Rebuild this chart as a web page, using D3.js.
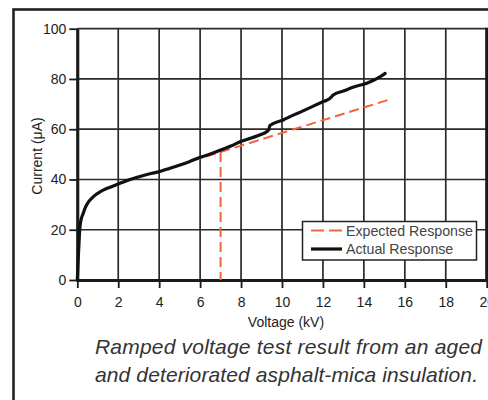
<!DOCTYPE html>
<html><head><meta charset="utf-8">
<script src="https://cdn.jsdelivr.net/npm/d3@7"></script>
<style>
html,body{margin:0;padding:0;background:#fff;}
svg{display:block;}
text{font-family:"Liberation Sans",Arial,Helvetica,sans-serif;}
</style></head>
<body>
<svg id="c" width="488" height="400"></svg>
<script>
// ---- data ----
const xTicks = [0,2,4,6,8,10,12,14,16,18,20];
const yTicks = [0,20,40,60,80,100];
const actualV = [0,0.06,0.13,0.2,0.29,0.4,0.5,0.62,0.8,1.11,1.5,2.09,2.5,3.06,3.5,4.04,4.5,5.02,5.5,6.0,6.5,6.97,7.5,7.95,8.5,9.0,9.25,9.35,9.41,10.06,10.5,11.0,11.5,12.02,12.3,12.45,12.5,13.0,13.5,14.14,14.5,14.8,15.04];
const actualI = [0,11,21.2,24.5,26.5,29.0,30.5,31.8,33.3,35.1,36.6,38.5,39.8,41.2,42.2,43.2,44.4,45.8,47.2,48.8,50.1,51.6,53.3,55.0,56.5,58.0,59.0,59.8,61.5,63.7,65.4,67.2,69.1,71.0,72.0,73.2,73.6,75.2,76.8,78.3,79.6,80.9,82.2];
const expectedV = [2.09,15.28];
const expectedI = [38.5,71.9];
const thresholdV = 7.0;
const seriesNames = ["Expected Response","Actual Response"];
const xTitle = "Voltage (kV)";
const yTitle = "Current (\u03bcA)";
const caption = ["Ramped voltage test result from an aged","and deteriorated asphalt-mica insulation."];

const svg = d3.select("#c");
const orange = "#f2643a";
const gridCol = "#2e2826";

// outer frame
svg.append("rect").attr("x",13.5).attr("y",9.5).attr("width",520).attr("height",420)
  .attr("fill","none").attr("stroke","#222").attr("stroke-width",2.6);

const x = d3.scaleLinear().domain([0,20]).range([77.3,486.7]);
const y = d3.scaleLinear().domain([0,100]).range([280,28.7]);

// grid
const g = svg.append("g");
g.selectAll("line.vg").data(xTicks).join("line")
  .attr("x1",d=>x(d)).attr("x2",d=>x(d)).attr("y1",y(0)).attr("y2",y(100))
  .attr("stroke",gridCol).attr("stroke-width",1.7);
g.selectAll("line.hg").data(yTicks).join("line")
  .attr("x1",x(0)).attr("x2",x(20)).attr("y1",d=>y(d)).attr("y2",d=>y(d))
  .attr("stroke",gridCol).attr("stroke-width",1.7);

// axes
const xAxis = svg.append("g").attr("transform",`translate(0,${y(0)})`)
  .call(d3.axisBottom(x).tickValues(xTicks).tickSize(8).tickPadding(9).tickSizeOuter(0));
const yAxis = svg.append("g").attr("transform",`translate(${x(0)},0)`)
  .call(d3.axisLeft(y).tickValues(yTicks).tickSize(8).tickPadding(3).tickSizeOuter(0));
[xAxis,yAxis].forEach(a=>{
  a.select(".domain").attr("stroke","#1a1a1a").attr("stroke-width",3);
  a.selectAll(".tick line").attr("stroke","#1a1a1a").attr("stroke-width",1.8);
  a.selectAll(".tick text").attr("fill","#222").style("font-size","14px")
   .style("font-family","'Liberation Sans',Arial,sans-serif");
});
// right border thicker
svg.append("line").attr("x1",x(20)).attr("x2",x(20)).attr("y1",y(100)-1).attr("y2",y(0)+1)
  .attr("stroke","#1a1a1a").attr("stroke-width",3);

// axis titles
svg.append("text").attr("x",286).attr("y",326.5).attr("text-anchor","middle")
  .attr("fill","#222").style("font-size","14px").text(xTitle);
svg.append("text").attr("transform","translate(42,156) rotate(-90)").attr("text-anchor","middle")
  .attr("fill","#222").style("font-size","14px").text(yTitle);

// expected (dashed) line
const line = d3.line().x(d=>x(d[0])).y(d=>y(d[1]));
svg.append("path").datum(expectedV.map((v,i)=>[v,expectedI[i]]))
  .attr("d",line).attr("fill","none").attr("stroke",orange).attr("stroke-width",2)
  .attr("stroke-dasharray","10,5");
const yAtT = expectedI[0] + (thresholdV-expectedV[0])*(expectedI[1]-expectedI[0])/(expectedV[1]-expectedV[0]);
svg.append("path").datum([[thresholdV,yAtT],[thresholdV,0]])
  .attr("d",line).attr("fill","none").attr("stroke",orange).attr("stroke-width",2)
  .attr("stroke-dasharray","10,5");

// actual line
const curve = d3.line().x(d=>x(d[0])).y(d=>y(d[1])).curve(d3.curveMonotoneX);
svg.append("path").datum(actualV.map((v,i)=>[v,actualI[i]]))
  .attr("d",curve).attr("fill","none").attr("stroke","#111").attr("stroke-width",3.2)
  .attr("stroke-linejoin","round").attr("stroke-linecap","round");

// legend
const lg = svg.append("g");
lg.append("rect").attr("x",302.5).attr("y",221.5).attr("width",174).attr("height",38.5)
  .attr("fill","#fff").attr("stroke","#222").attr("stroke-width",1.5);
lg.append("line").attr("x1",311).attr("x2",342).attr("y1",230.5).attr("y2",230.5)
  .attr("stroke",orange).attr("stroke-width",2).attr("stroke-dasharray","13,5");
lg.append("line").attr("x1",311).attr("x2",342).attr("y1",249).attr("y2",249)
  .attr("stroke","#111").attr("stroke-width",3.2);
lg.selectAll("text").data(seriesNames).join("text")
  .attr("x",346).attr("y",(d,i)=>235.5+i*18.5).attr("fill","#444")
  .style("font-size","14.2px").text(d=>d);

// caption
const capW = [387,383];
svg.selectAll("text.cap").data(caption).join("text").attr("class","cap")
  .attr("x",95).attr("y",(d,i)=>353.5+i*28.3)
  .attr("fill","#333").style("font-size","21px").style("font-style","italic")
  .attr("textLength",(d,i)=>capW[i]).attr("lengthAdjust","spacing")
  .text(d=>d);
</script>
</body></html>
